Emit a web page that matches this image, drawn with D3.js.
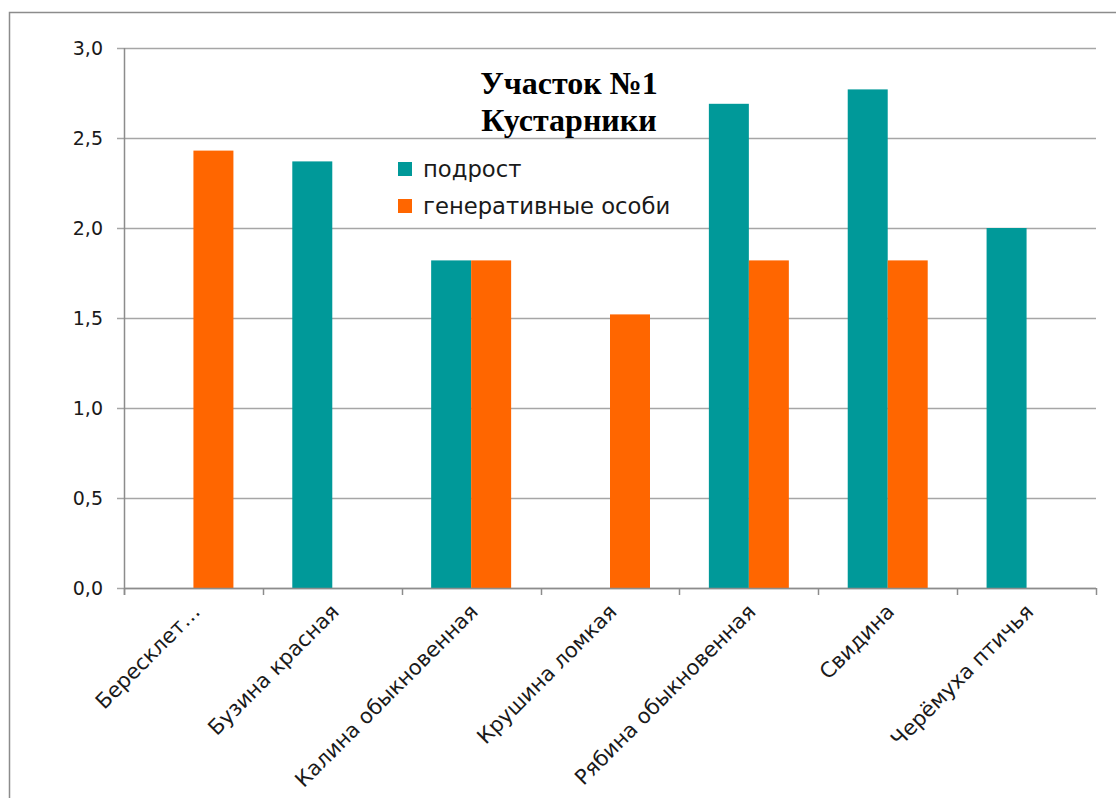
<!DOCTYPE html>
<html>
<head>
<meta charset="utf-8">
<script src="https://cdn.jsdelivr.net/npm/d3@7"></script>
<style>
  body { margin: 0; background: #fff; }
  svg { display: block; }
</style>
</head>
<body>
<div id="chart"></div>
<script>
const width = 1116;
const height = 798;

const categories = [
  "Бересклет…",
  "Бузина красная",
  "Калина обыкновенная",
  "Крушина ломкая",
  "Рябина обыкновенная",
  "Свидина",
  "Черёмуха птичья"
];
const seriesNames = ["подрост", "генеративные особи"];
const podrost = [0, 2.37, 1.82, 0, 2.69, 2.77, 2.0];
const generative = [2.43, 0, 1.82, 1.52, 1.82, 1.82, 0];
const yTicks = [0, 0.5, 1, 1.5, 2, 2.5, 3];
const colors = ["#009999", "#ff6600"];

const margin = { top: 48, right: 20, bottom: 210, left: 124 };
const fontFamily = "'DejaVu Sans', Verdana, sans-serif";

const svg = d3.select("#chart").append("svg")
  .attr("width", width)
  .attr("height", height)
  .attr("font-family", fontFamily);

// outer frame (runs off the right and bottom edges like the screenshot)
svg.append("path")
  .attr("d", `M9.5,${height + 5}V12.5H${width + 5}`)
  .attr("fill", "none")
  .attr("stroke", "#8c8c8c")
  .attr("stroke-width", 1.5);

const x0 = d3.scaleBand()
  .domain(categories)
  .range([margin.left, width - margin.right])
  .paddingInner(0.424)
  .paddingOuter(0.212);

const x1 = d3.scaleBand()
  .domain(seriesNames)
  .range([0, x0.bandwidth()]);

const y = d3.scaleLinear()
  .domain([0, 3])
  .range([height - margin.bottom, margin.top]);

// gridlines
svg.append("g")
  .selectAll("line")
  .data(yTicks)
  .join("line")
  .attr("x1", margin.left - 7)
  .attr("x2", width - margin.right)
  .attr("y1", d => Math.round(y(d)) + 0.5)
  .attr("y2", d => Math.round(y(d)) + 0.5)
  .attr("stroke", "#a6a6a6")
  .attr("stroke-width", 1.5);

// y labels
svg.append("g")
  .selectAll("text")
  .data(yTicks)
  .join("text")
  .attr("x", margin.left - 21)
  .attr("y", d => y(d))
  .attr("dy", "0.35em")
  .attr("text-anchor", "end")
  .attr("font-size", 19)
  .attr("fill", "#1a1a1a")
  .text(d => d3.format(".1f")(d).replace(".", ","));

// bars
const rows = categories.map((c, i) => ({ cat: c, values: [podrost[i], generative[i]] }));

svg.append("g")
  .selectAll("g")
  .data(rows)
  .join("g")
  .attr("transform", d => `translate(${x0(d.cat)},0)`)
  .selectAll("rect")
  .data(d => d.values.map((v, j) => ({ key: seriesNames[j], value: v, j })))
  .join("rect")
  .filter(d => d.value > 0)
  .attr("x", d => x1(d.key))
  .attr("width", x1.bandwidth())
  .attr("y", d => y(d.value))
  .attr("height", d => y(0) - y(d.value))
  .attr("fill", d => colors[d.j]);

// axes lines
const x0Step = x0.step();
const boundaries = d3.range(categories.length + 1).map(i => margin.left + i * x0Step);

svg.append("line")
  .attr("x1", margin.left + 0.5).attr("x2", margin.left + 0.5)
  .attr("y1", y(3)).attr("y2", y(0) + 7)
  .attr("stroke", "#8c8c8c").attr("stroke-width", 1.5);

svg.append("line")
  .attr("x1", margin.left).attr("x2", width - margin.right)
  .attr("y1", y(0) + 0.5).attr("y2", y(0) + 0.5)
  .attr("stroke", "#8c8c8c").attr("stroke-width", 1.5);

svg.append("g")
  .selectAll("line")
  .data(boundaries)
  .join("line")
  .attr("x1", d => Math.round(d) + 0.5)
  .attr("x2", d => Math.round(d) + 0.5)
  .attr("y1", y(0))
  .attr("y2", y(0) + 7)
  .attr("stroke", "#8c8c8c")
  .attr("stroke-width", 1.5);

// category labels, rotated
svg.append("g")
  .selectAll("text")
  .data(categories)
  .join("text")
  .attr("transform", d => `translate(${x0(d) + x0.bandwidth() / 2 + 8},${y(0) + 25}) rotate(-45)`)
  .attr("text-anchor", "end")
  .attr("font-size", 21)
  .attr("fill", "#1a1a1a")
  .text(d => d);

// title
const title = svg.append("text")
  .attr("x", 569)
  .attr("y", 94)
  .attr("text-anchor", "middle")
  .attr("font-family", "'Liberation Serif', 'Times New Roman', serif")
  .attr("font-weight", "bold")
  .attr("font-size", 32)
  .attr("fill", "#000");
title.append("tspan").attr("x", 569).text("Участок №1");
title.append("tspan").attr("x", 569).attr("dy", 37).text("Кустарники");

// legend
const legend = svg.append("g")
  .selectAll("g")
  .data(seriesNames)
  .join("g")
  .attr("transform", (d, i) => `translate(398,${162 + i * 37})`);

legend.append("rect")
  .attr("width", 14)
  .attr("height", 14)
  .attr("fill", (d, i) => colors[i]);

legend.append("text")
  .attr("x", 25)
  .attr("y", 7)
  .attr("dy", "0.35em")
  .attr("font-size", 22.7)
  .attr("fill", "#1a1a1a")
  .text(d => d);
</script>
</body>
</html>
